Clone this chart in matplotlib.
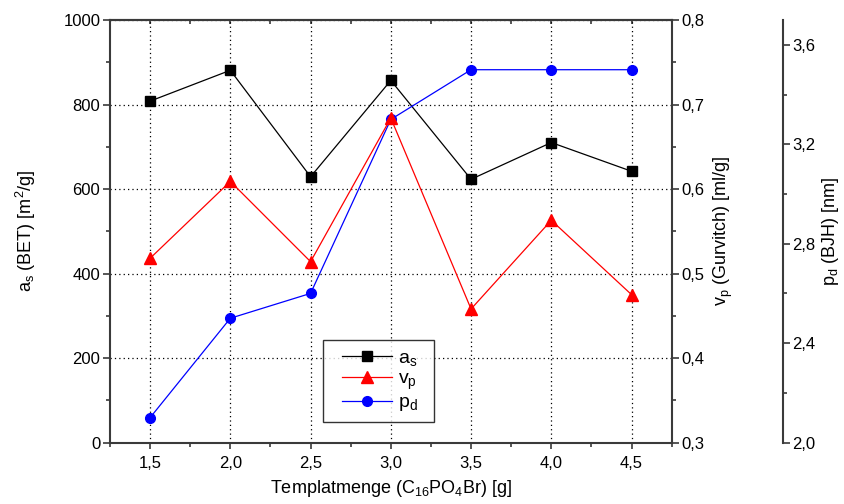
import matplotlib
matplotlib.use("Agg")
import matplotlib.pyplot as plt
from matplotlib.lines import Line2D
from matplotlib.legend_handler import HandlerLine2D
from matplotlib.ticker import MultipleLocator, FuncFormatter

plt.rcParams['font.family'] = ['Liberation Sans', 'DejaVu Sans']
plt.rcParams['mathtext.fontset'] = 'custom'
plt.rcParams['mathtext.rm'] = 'Liberation Sans'
plt.rcParams['mathtext.it'] = 'Liberation Sans'
plt.rcParams['mathtext.default'] = 'regular'

# Template amount [g]
template = [1.5, 2.0, 2.5, 3.0, 3.5, 4.0, 4.5]
# BET surface area [m^2/g]
a_s = [808, 881, 629, 857, 623, 710, 642]
# Gurvitch pore volume [ml/g]
v_p = [0.518, 0.609, 0.514, 0.684, 0.458, 0.563, 0.475]
# BJH pore diameter [nm]
p_d = [2.1, 2.5, 2.6, 3.3, 3.5, 3.5, 3.5]

SPINE = '#3a3a3a'


def comma(fmt):
    return FuncFormatter(lambda v, pos: (fmt % v).replace('.', ','))


fig = plt.figure(figsize=(8.44, 5.04), dpi=100)
ax = fig.add_axes([0.1303, 0.122, 0.6655, 0.8383])
ax3 = ax.twinx()
ax2 = ax.twinx()
for a in (ax2, ax3):
    a.patch.set_visible(False)

ax.set_zorder(1)
ax3.set_zorder(2)
ax2.set_zorder(3)

l1, = ax.plot(template, a_s, color='black', lw=0.9, marker='s', ms=6.5,
              label='a$_s$')
l2, = ax2.plot(template, v_p, color='red', lw=0.9, marker='^', ms=8,
               label='v$_p$')
l3, = ax3.plot(template, p_d, color='blue', lw=0.9, marker='o', ms=7,
               label='p$_d$')

ax.set_xlim(1.25, 4.75)
ax.set_ylim(0, 1000)
ax2.set_ylim(0.3, 0.8)
ax3.set_ylim(2.0, 3.7)

ax.xaxis.set_major_locator(MultipleLocator(0.5))
ax.xaxis.set_minor_locator(MultipleLocator(0.25))
ax.xaxis.set_major_formatter(comma('%.1f'))
ax.yaxis.set_major_locator(MultipleLocator(200))
ax.yaxis.set_minor_locator(MultipleLocator(100))
ax2.yaxis.set_major_locator(MultipleLocator(0.1))
ax2.yaxis.set_minor_locator(MultipleLocator(0.05))
ax2.yaxis.set_major_formatter(comma('%.1f'))
ax3.yaxis.set_major_locator(MultipleLocator(0.4))
ax3.yaxis.set_minor_locator(MultipleLocator(0.2))
ax3.yaxis.set_major_formatter(comma('%.1f'))

ax.grid(True, which='major', color='black', ls=(0, (1, 2.5)), lw=0.9)

# spines
for a in (ax, ax2, ax3):
    for s in a.spines.values():
        s.set_color(SPINE)
        s.set_linewidth(1.5)
for a in (ax2, ax3):
    for side in ('left', 'top', 'bottom'):
        a.spines[side].set_visible(False)
ax.spines['right'].set_visible(False)
ax3.spines['right'].set_position(('axes', 1.198))

TICK = 12
# ticks
ax.tick_params(axis='y', which='major', direction='out', length=5, width=1.2,
               color=SPINE, labelsize=TICK, pad=2)
ax.tick_params(axis='y', which='minor', direction='out', length=3, width=1.2,
               color=SPINE)
ax.tick_params(axis='x', which='major', direction='out', length=4, width=1.2,
               color=SPINE, labelsize=TICK, pad=6, top=False)
ax.tick_params(axis='x', which='minor', direction='out', length=3, width=1.2,
               color=SPINE, top=False)
# inward ticks on the top spine
axt = ax.secondary_xaxis('top')
axt.xaxis.set_major_locator(MultipleLocator(0.5))
axt.xaxis.set_minor_locator(MultipleLocator(0.25))
axt.tick_params(axis='x', which='both', direction='in', length=3, width=1.2,
                color=SPINE, labeltop=False)
axt.spines['top'].set_color(SPINE)
axt.spines['top'].set_linewidth(1.5)

for a in (ax2, ax3):
    a.tick_params(axis='y', which='major', direction='out', length=5,
                  width=1.2, color=SPINE, labelsize=TICK, pad=2)
    a.tick_params(axis='y', which='minor', direction='out', length=3,
                  width=1.2, color=SPINE)

LAB = 13
ax.set_xlabel('Templatmenge (C$_{16}$PO$_4$Br) [g]', fontsize=LAB, labelpad=5)
ax.set_ylabel('a$_s$ (BET) [m$^2$/g]', fontsize=LAB, labelpad=18)
ax2.set_ylabel('v$_p$ (Gurvitch) [ml/g]', fontsize=LAB, labelpad=5)
ax3.set_ylabel('p$_d$ (BJH) [nm]', fontsize=LAB, labelpad=3)

leg = ax2.legend(handles=[l1, l2, l3], loc='lower left',
                 bbox_to_anchor=(0.379, 0.048, 0.198, 0.202), mode='expand',
                 fontsize=14, frameon=True, fancybox=False,
                 edgecolor='black', handlelength=3.1, handletextpad=0.3,
                 labelspacing=0.12, borderpad=0.45, borderaxespad=0,
                 handler_map={Line2D: HandlerLine2D(xpad=0.53)})
leg.get_frame().set_linewidth(1.0)

fig.savefig('out.png', dpi=100)
